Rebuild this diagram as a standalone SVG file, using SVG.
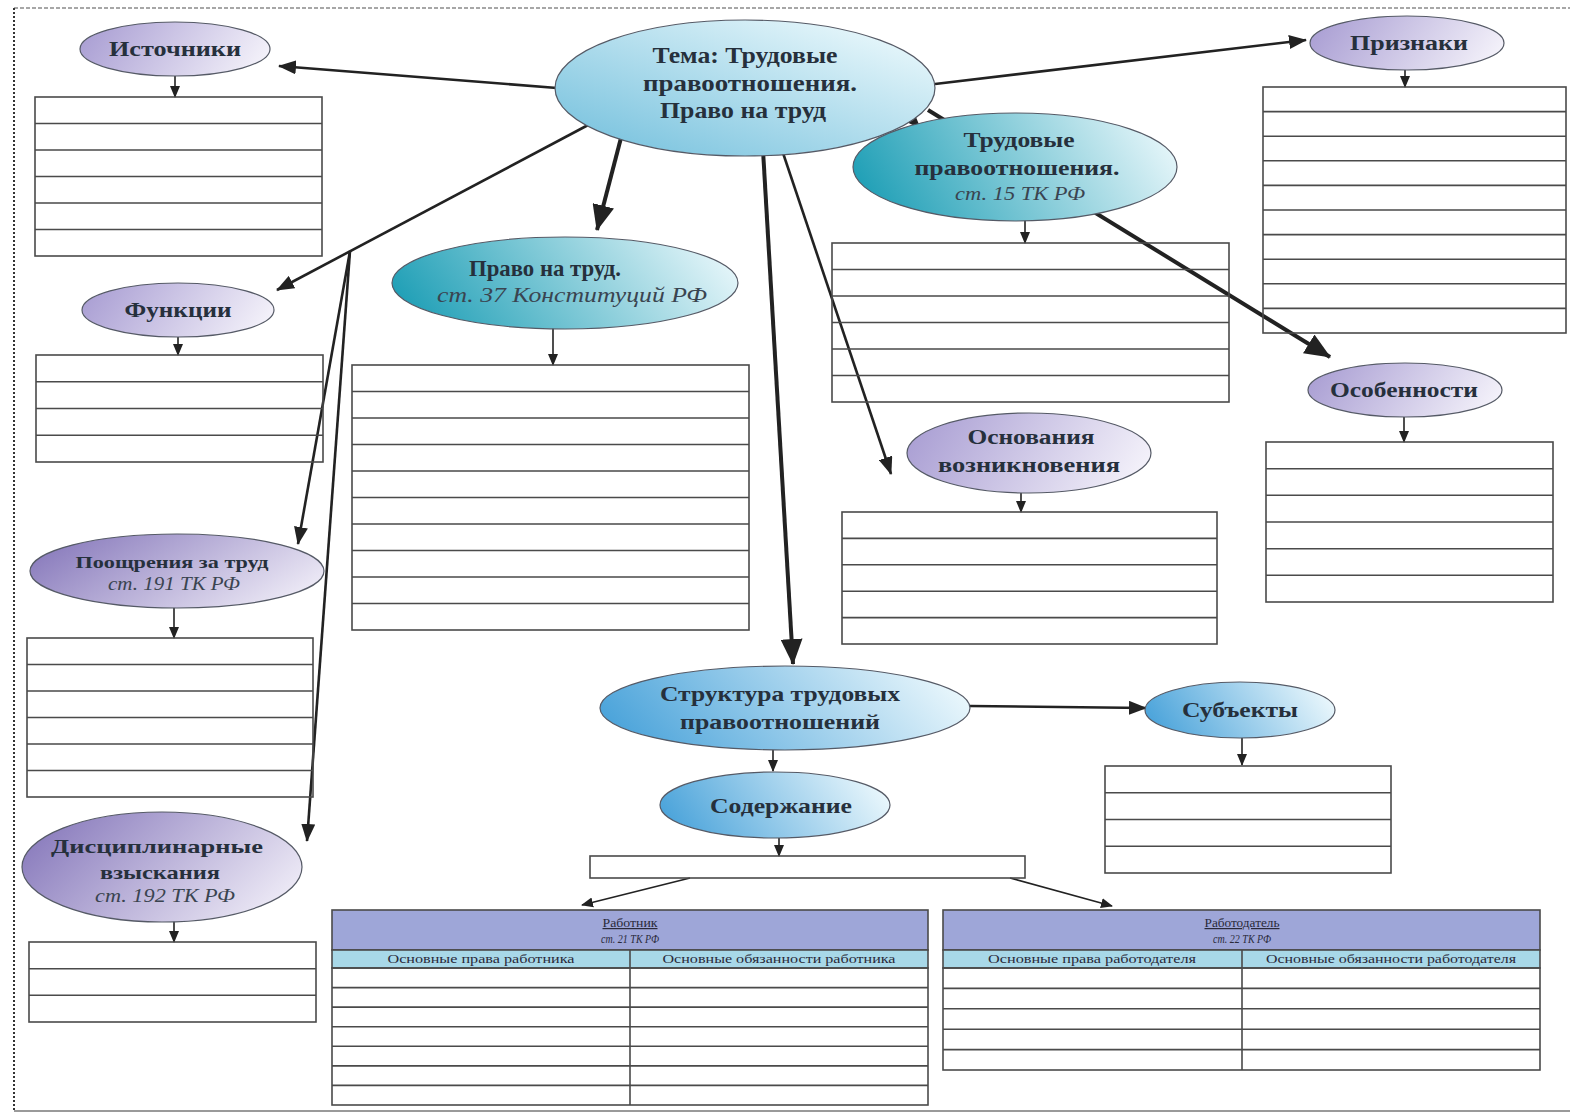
<svg xmlns="http://www.w3.org/2000/svg" width="1570" height="1115" viewBox="0 0 1570 1115">
<style>
.bg{fill:#fff}
.tbl{fill:none;stroke:#4a4a4a;stroke-width:1.6}
.tl{fill:none;stroke:#4a4a4a;stroke-width:1.6}
.ell{stroke:#555a66;stroke-width:1.2}
.t{font-family:"Liberation Serif","Times New Roman",serif;font-weight:bold;fill:#26303c;text-anchor:middle}
.it{font-family:"Liberation Serif","Times New Roman",serif;font-style:italic;fill:#3a4450;text-anchor:middle}
.sm{font-family:"Liberation Serif","Times New Roman",serif;fill:#2a2a3a;text-anchor:middle;font-size:12px}
.smi{font-family:"Liberation Serif","Times New Roman",serif;font-style:italic;fill:#2a2a3a;text-anchor:middle;font-size:12px}
.c1{fill:none;stroke:#222;stroke-width:1.6}
.c2{fill:none;stroke:#222;stroke-width:2.6}
.c3{fill:none;stroke:#222;stroke-width:4}
</style>
<defs>
<marker id="aS" markerUnits="userSpaceOnUse" markerWidth="12" markerHeight="12" viewBox="0 0 12 12" refX="11" refY="6" orient="auto"><path d="M0,1 L12,6 L0,11 Z" fill="#222"/></marker>
<marker id="aM" markerUnits="userSpaceOnUse" markerWidth="18" markerHeight="14" viewBox="0 0 18 14" refX="17" refY="7" orient="auto"><path d="M0,0 L18,7 L0,14 Z" fill="#222"/></marker>
<marker id="aL" markerUnits="userSpaceOnUse" markerWidth="26" markerHeight="22" viewBox="0 0 26 22" refX="25" refY="11" orient="auto"><path d="M0,0 L26,11 L0,22 Z" fill="#222"/></marker>
<linearGradient id="gP" x1="0" y1="0.4" x2="1" y2="0.6"><stop offset="0" stop-color="#aba0d4"/><stop offset="1" stop-color="#f4f2fa"/></linearGradient>
<linearGradient id="gPd" x1="0" y1="0.3" x2="1" y2="0.7"><stop offset="0" stop-color="#8a7cbd"/><stop offset="1" stop-color="#efecf7"/></linearGradient>
<linearGradient id="gB" x1="0.1" y1="0.9" x2="0.9" y2="0.1"><stop offset="0" stop-color="#7cc4df"/><stop offset="1" stop-color="#e8f7fb"/></linearGradient>
<linearGradient id="gBd" x1="0" y1="0.6" x2="1" y2="0.4"><stop offset="0" stop-color="#4aa3da"/><stop offset="1" stop-color="#eaf7fc"/></linearGradient>
<linearGradient id="gT" x1="0" y1="0.6" x2="1" y2="0.4"><stop offset="0" stop-color="#1f9fb6"/><stop offset="1" stop-color="#e4f5f9"/></linearGradient>
</defs>
<rect class="bg" x="0" y="0" width="1570" height="1115"/>
<g id="frame">
<line x1="14" y1="8" x2="1570" y2="8" stroke="#8a8a8a" stroke-width="1.5" stroke-dasharray="4 2"/>
<line x1="14" y1="8" x2="14" y2="1111" stroke="#333" stroke-width="2" stroke-dasharray="2 2"/>
<line x1="14" y1="1111" x2="1570" y2="1111" stroke="#9a9a9a" stroke-width="2"/>
</g>
<g id="connectors">
<path class="c2" d="M557,88 L279,66" marker-end="url(#aM)"/>
<path class="c2" d="M590,124 L277,290" marker-end="url(#aM)"/>
<path class="c2" d="M350,251 L298,544" marker-end="url(#aM)"/>
<path class="c2" d="M350,251 L307,841" marker-end="url(#aM)"/>
<path class="c3" d="M622,134 L597,230" marker-end="url(#aL)"/>
<path class="c3" d="M763,150 L793,664" marker-end="url(#aL)"/>
<path class="c2" d="M782,150 L891,474" marker-end="url(#aM)"/>
<path class="c2" d="M935,84 L1306,40" marker-end="url(#aM)"/>
<path class="c3" d="M928,110 L1330,357" marker-end="url(#aL)"/>
<path class="c2" d="M905,112 L920,128" marker-end="url(#aM)"/>
<path class="c2" d="M970,706 L1146,708" marker-end="url(#aM)"/>
<path class="c1" d="M690,878 L582,905" marker-end="url(#aS)"/>
<path class="c1" d="M1010,878 L1112,906" marker-end="url(#aS)"/>
<path class="c1" d="M175,76 L175,97" marker-end="url(#aS)"/>
<path class="c1" d="M178,337 L178,355" marker-end="url(#aS)"/>
<path class="c1" d="M174,607 L174,638" marker-end="url(#aS)"/>
<path class="c1" d="M174,920 L174,942" marker-end="url(#aS)"/>
<path class="c1" d="M553,328 L553,365" marker-end="url(#aS)"/>
<path class="c1" d="M1025,220 L1025,243" marker-end="url(#aS)"/>
<path class="c1" d="M1021,493 L1021,512" marker-end="url(#aS)"/>
<path class="c1" d="M1405,70 L1405,87" marker-end="url(#aS)"/>
<path class="c1" d="M1404,417 L1404,442" marker-end="url(#aS)"/>
<path class="c1" d="M773,750 L773,771" marker-end="url(#aS)"/>
<path class="c1" d="M779,838 L779,856" marker-end="url(#aS)"/>
<path class="c1" d="M1242,738 L1242,765" marker-end="url(#aS)"/>
</g>
<g id="n-tema">
<ellipse class="ell" cx="745" cy="88" rx="190" ry="68" fill="url(#gB)"/>
<text class="t" x="745" y="63" font-size="23" textLength="185" lengthAdjust="spacingAndGlyphs">Тема: Трудовые</text>
<text class="t" x="750" y="91" font-size="23" textLength="214" lengthAdjust="spacingAndGlyphs">правоотношения.</text>
<text class="t" x="743" y="118" font-size="23" textLength="166" lengthAdjust="spacingAndGlyphs">Право на труд</text>
</g>
<g id="n-istochniki">
<ellipse class="ell" cx="175" cy="49" rx="95" ry="27" fill="url(#gP)"/>
<text class="t" x="175" y="56" font-size="20" textLength="132" lengthAdjust="spacingAndGlyphs">Источники</text>
<rect class="tbl" x="35" y="97" width="287" height="159"/>
<path class="tl" d="M35,123.5H322M35,150H322M35,176.5H322M35,203H322M35,229.5H322"/>
</g>
<g id="n-funkcii">
<ellipse class="ell" cx="178" cy="310" rx="96" ry="27" fill="url(#gP)"/>
<text class="t" x="178" y="317" font-size="20" textLength="107" lengthAdjust="spacingAndGlyphs">Функции</text>
<rect class="tbl" x="36" y="355" width="287" height="107"/>
<path class="tl" d="M36,381.75H323M36,408.5H323M36,435.25H323"/>
</g>
<g id="n-pooshreniya">
<ellipse class="ell" cx="177" cy="571" rx="147" ry="37" fill="url(#gPd)"/>
<text class="t" x="172" y="568" font-size="17" textLength="193" lengthAdjust="spacingAndGlyphs">Поощрения за труд</text>
<text class="it" x="174" y="590" font-size="18" textLength="132" lengthAdjust="spacingAndGlyphs">ст. 191 ТК РФ</text>
<rect class="tbl" x="27" y="638" width="286" height="159"/>
<path class="tl" d="M27,664.5H313M27,691H313M27,717.5H313M27,744H313M27,770.5H313"/>
</g>
<g id="n-disciplinarnye">
<ellipse class="ell" cx="162" cy="867" rx="140" ry="55" fill="url(#gPd)"/>
<text class="t" x="157" y="853" font-size="19" textLength="212" lengthAdjust="spacingAndGlyphs">Дисциплинарные</text>
<text class="t" x="160" y="879" font-size="19" textLength="120" lengthAdjust="spacingAndGlyphs">взыскания</text>
<text class="it" x="165" y="902" font-size="19" textLength="140" lengthAdjust="spacingAndGlyphs">ст. 192 ТК РФ</text>
<rect class="tbl" x="29" y="942" width="287" height="80"/>
<path class="tl" d="M29,968.7H316M29,995.3H316"/>
</g>
<g id="n-pravo">
<ellipse class="ell" cx="565" cy="283" rx="173" ry="46" fill="url(#gT)"/>
<text class="t" x="545" y="276" font-size="23" textLength="152" lengthAdjust="spacingAndGlyphs">Право на труд.</text>
<text class="it" x="572" y="302" font-size="20" textLength="270" lengthAdjust="spacingAndGlyphs">ст. 37 Конституций РФ</text>
<rect class="tbl" x="352" y="365" width="397" height="265"/>
<path class="tl" d="M352,391.5H749M352,418H749M352,444.5H749M352,471H749M352,497.5H749M352,524H749M352,550.5H749M352,577H749M352,603.5H749"/>
</g>
<g id="n-trudovye">
<ellipse class="ell" cx="1015" cy="167" rx="162" ry="54" fill="url(#gT)"/>
<text class="t" x="1019" y="147" font-size="21" textLength="111" lengthAdjust="spacingAndGlyphs">Трудовые</text>
<text class="t" x="1017" y="175" font-size="21" textLength="205" lengthAdjust="spacingAndGlyphs">правоотношения.</text>
<text class="it" x="1020" y="200" font-size="19" textLength="130" lengthAdjust="spacingAndGlyphs">ст. 15 ТК РФ</text>
<rect class="tbl" x="832" y="243" width="397" height="159"/>
<path class="tl" d="M832,269.5H1229M832,296H1229M832,322.5H1229M832,349H1229M832,375.5H1229"/>
</g>
<g id="n-osnovaniya">
<ellipse class="ell" cx="1029" cy="453" rx="122" ry="40" fill="url(#gP)"/>
<text class="t" x="1031" y="444" font-size="20" textLength="127" lengthAdjust="spacingAndGlyphs">Основания</text>
<text class="t" x="1029" y="472" font-size="20" textLength="182" lengthAdjust="spacingAndGlyphs">возникновения</text>
<rect class="tbl" x="842" y="512" width="375" height="132"/>
<path class="tl" d="M842,538.4H1217M842,564.8H1217M842,591.2H1217M842,617.6H1217"/>
</g>
<g id="n-priznaki">
<ellipse class="ell" cx="1407" cy="43" rx="97" ry="27" fill="url(#gP)"/>
<text class="t" x="1409" y="50" font-size="20" textLength="118" lengthAdjust="spacingAndGlyphs">Признаки</text>
<rect class="tbl" x="1263" y="87" width="303" height="246"/>
<path class="tl" d="M1263,111.6H1566M1263,136.2H1566M1263,160.8H1566M1263,185.4H1566M1263,210H1566M1263,234.6H1566M1263,259.2H1566M1263,283.8H1566M1263,308.4H1566"/>
</g>
<g id="n-osobennosti">
<ellipse class="ell" cx="1405" cy="390" rx="97" ry="27" fill="url(#gP)"/>
<text class="t" x="1404" y="397" font-size="20" textLength="148" lengthAdjust="spacingAndGlyphs">Особенности</text>
<rect class="tbl" x="1266" y="442" width="287" height="160"/>
<path class="tl" d="M1266,468.7H1553M1266,495.3H1553M1266,522H1553M1266,548.7H1553M1266,575.3H1553"/>
</g>
<g id="n-struktura">
<ellipse class="ell" cx="785" cy="708" rx="185" ry="42" fill="url(#gBd)"/>
<text class="t" x="780" y="701" font-size="22" textLength="240" lengthAdjust="spacingAndGlyphs">Структура трудовых</text>
<text class="t" x="780" y="729" font-size="22" textLength="200" lengthAdjust="spacingAndGlyphs">правоотношений</text>
</g>
<g id="n-subekty">
<ellipse class="ell" cx="1240" cy="710" rx="95" ry="28" fill="url(#gBd)"/>
<text class="t" x="1240" y="717" font-size="22" textLength="116" lengthAdjust="spacingAndGlyphs">Субъекты</text>
<rect class="tbl" x="1105" y="766" width="286" height="107"/>
<path class="tl" d="M1105,792.75H1391M1105,819.5H1391M1105,846.25H1391"/>
</g>
<g id="n-soderzhanie">
<ellipse class="ell" cx="775" cy="805" rx="115" ry="33" fill="url(#gBd)"/>
<text class="t" x="781" y="813" font-size="22" textLength="142" lengthAdjust="spacingAndGlyphs">Содержание</text>
<rect class="tbl" x="590" y="856" width="435" height="22"/>
</g>
<g id="n-rabotnik">
<rect x="332" y="910" width="596" height="40" fill="#9ea6d8" stroke="#4a4a4a" stroke-width="1.6"/>
<rect x="332" y="950" width="596" height="18" fill="#a8d8e8" stroke="#4a4a4a" stroke-width="1.6"/>
<rect class="tbl" x="332" y="968" width="596" height="137"/>
<path class="tl" d="M332,987.6H928M332,1007.1H928M332,1026.7H928M332,1046.3H928M332,1065.9H928M332,1085.4H928M630,950V1105"/>
<text class="sm" x="630" y="927" text-decoration="underline" textLength="55" lengthAdjust="spacingAndGlyphs">Работник</text>
<text class="smi" x="630" y="943" textLength="58" lengthAdjust="spacingAndGlyphs">ст. 21 ТК РФ</text>
<text class="sm" x="481" y="963" textLength="187" lengthAdjust="spacingAndGlyphs">Основные права работника</text>
<text class="sm" x="779" y="963" textLength="233" lengthAdjust="spacingAndGlyphs">Основные обязанности работника</text>
</g>
<g id="n-rabotodatel">
<rect x="943" y="910" width="597" height="40" fill="#9ea6d8" stroke="#4a4a4a" stroke-width="1.6"/>
<rect x="943" y="950" width="597" height="18" fill="#a8d8e8" stroke="#4a4a4a" stroke-width="1.6"/>
<rect class="tbl" x="943" y="968" width="597" height="102"/>
<path class="tl" d="M943,988.4H1540M943,1008.8H1540M943,1029.2H1540M943,1049.6H1540M1242,950V1070"/>
<text class="sm" x="1242" y="927" text-decoration="underline" textLength="75" lengthAdjust="spacingAndGlyphs">Работодатель</text>
<text class="smi" x="1242" y="943" textLength="58" lengthAdjust="spacingAndGlyphs">ст. 22 ТК РФ</text>
<text class="sm" x="1092" y="963" textLength="208" lengthAdjust="spacingAndGlyphs">Основные права работодателя</text>
<text class="sm" x="1391" y="963" textLength="250" lengthAdjust="spacingAndGlyphs">Основные обязанности работодателя</text>
</g>
</svg>
